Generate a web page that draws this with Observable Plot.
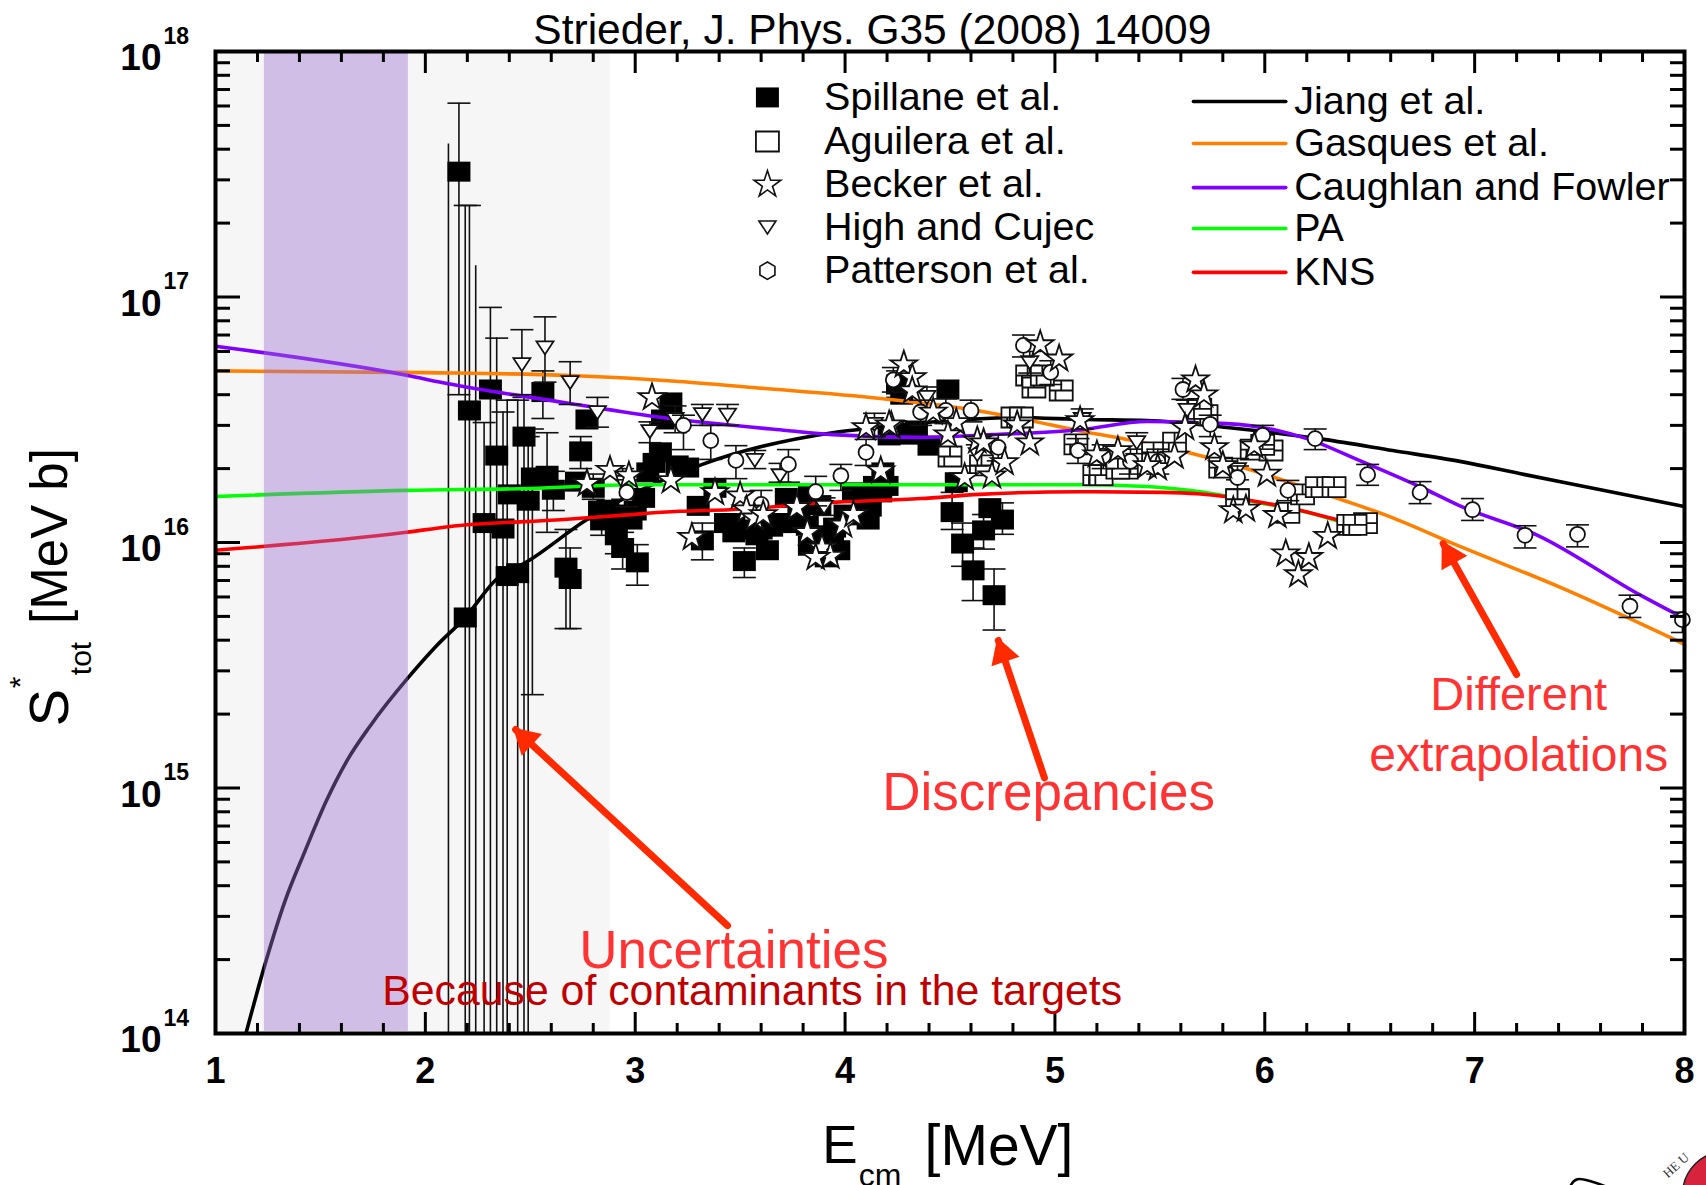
<!DOCTYPE html>
<html><head><meta charset="utf-8">
<style>html,body{margin:0;padding:0;background:#fff;overflow:hidden}svg{display:block}</style>
<script src="https://cdn.jsdelivr.net/npm/d3@7"></script>
<script src="https://cdn.jsdelivr.net/npm/@observablehq/plot@0.6"></script>
</head><body><div id="chart"></div>
<script>
// All S values are in units of 1e16 MeV b; rows are [E, S, low, high]
const spillane = [
[2.16,32.4,4.0,61.6],[2.19,.495,.001,23.6],[2.21,3.45,.001,23.6],[2.28,1.2,.001,3.08],[2.31,4.2,.001,9.07],
[2.34,2.26,.001,6.8],[2.37,1.14,.001,3.4],[2.39,.73,.001,3.8],[2.44,.75,.001,3.8],[2.47,2.7,.001,3.9],
[2.49,1.48,.001,2.7],[2.40,1.57],[2.51,1.84,.24,2.9],[2.56,4.1,3.2,5.0],[2.58,1.87,1.1,2.8],[2.61,1.64,1.35,1.95],
[2.74,2.35,2.0,2.7],[2.77,3.17],[2.67,.79,.446,1.13],[2.69,.71,.446,.95],[2.72,1.77],[2.80,1.67,1.5,1.9],
[2.87,1.36],[2.84,1.23,1.07,1.4],[2.83,1.35],[2.9,1.27],[2.95,1.3],[3.0,1.35],[2.98,1.24],[3.04,1.52],[2.91,1.07,.9,1.25],[2.94,.95,.78,1.1],[3.01,.83,.67,.98],
[3.06,1.93],[3.09,2.11],[3.12,2.33],[3.17,3.72],[3.13,3.17],[3.20,2.06],[3.25,2.02],[3.38,1.67],[3.30,1.41],
[3.32,1.02,.85,1.2],[3.47,1.1],[3.52,.84,.72,.95],[3.63,.93],[3.47,1.2],[3.43,1.2],[3.55,1.13],[3.6,1.13],[3.65,1.16],[3.58,1.07],[3.69,1.2],[3.72,1.2],[3.72,1.52],[3.83,1.55],
[3.78,1.35],[3.88,1.42],[3.82,1.17],[3.87,1.07],[3.83,.97],[3.94,1.03],[3.95,1.15],[4.0,1.3],[3.97,.93],[3.91,.87],[4.04,1.6],[4.17,1.6],[4.07,1.29],[4.11,1.24],
[4.1,1.5],[4.12,1.4],[4.14,1.7],[4.2,1.7],[4.18,1.93],[4.25,4.4,3.9,5.0],[4.27,4.0],[4.21,2.73],[4.27,2.8],[4.3,2.75],[4.34,2.86],[4.40,2.48],[4.49,4.2],[4.53,1.76],
[4.51,1.33,1.13,1.6],[4.56,.99,.8,1.2],[4.61,.77,.58,.95],[4.71,.61,.44,.78],[4.66,1.12,.94,1.3],[4.69,1.38],[4.75,1.24,1.08,1.45]
];
const bareBars = [[2.11,.001,42],[2.24,.001,13.4]];
const aguilera = [
[4.87,4.79],[4.90,4.28],[5.03,4.16],[4.94,4.79],[4.50,2.24],[4.80,3.23],[4.84,3.23],[5.10,2.51],[5.19,1.88],[5.22,1.88],
[5.34,2.0],[5.30,2.0],[5.47,2.33],[5.57,2.55],[4.65,2.06],[5.72,3.3],[5.69,3.5],[5.79,2.02],[5.87,1.5],[5.94,2.39],[6.03,2.37],[5.99,2.5],
[6.11,1.32],[6.18,1.57],[6.25,1.68],[6.33,1.68],[6.40,1.18],[6.48,1.2],[6.43,1.18]
];
const becker = [
[3.08,3.9],[2.77,1.74],[2.88,1.97],[2.97,1.87],[3.17,1.79],[3.38,1.6],[3.27,1.05],[3.5,1.55],[3.53,1.36],[3.57,1.26],[3.61,1.3],
[3.77,1.39],[3.82,1.1],[3.99,1.18],[4.04,1.3],[3.89,.95],[3.93,.88],[3.86,.87],[4.17,1.96],[4.10,2.94],[4.22,3.0],[4.28,5.3],
[4.32,4.7],[4.32,4.15],[4.42,3.4],[4.53,3.08],[4.21,3.02],[4.49,2.75],[4.63,2.6],[4.66,2.55],[4.57,1.84],[4.70,1.87],[4.76,2.12],
[4.88,2.55],[4.82,3.02],[4.93,6.4],[5.02,5.6],[5.12,3.14],[5.2,2.28],[5.3,2.37],[5.49,2.02],[5.44,2.06],[5.57,2.25],[5.67,4.6],
[5.71,4.0],[5.62,2.94],[5.76,2.44],[5.80,2.06],[6.01,1.9],[5.95,2.48],[5.85,1.35],[5.91,1.37],[6.06,1.29],[6.30,1.06],[6.10,.9],
[6.21,.87],[6.16,.74]
];
const high = [
[2.46,5.3,4.0,7.36],[2.57,6.2,4.5,8.3],[2.69,4.48,3.65,5.45],[2.82,3.38,2.95,3.9],[3.07,2.83,2.55,3.1],[3.19,3.17,2.8,3.6],[2.94,1.76,1.5,2.0],
[3.32,3.32,3.0,3.65],[3.44,3.3,3.0,3.65],[3.57,2.16,2.0,2.37],[3.69,1.87,1.76,2.1],[3.90,1.39,1.29,1.52],[4.14,3.03,2.7,3.36],
[4.39,3.9,3.5,4.3],[4.63,2.28,2.05,2.5],[4.88,5.4,4.9,6.0],[5.13,3.17,2.9,3.5],[5.39,2.55,2.3,2.8],[5.63,3.45,3.1,3.8],[5.87,1.98,1.8,2.2]
];
const patterson = [
[2.96,1.6,1.4,1.8],[3.23,3.0,2.39,3.3],[3.36,2.6,2.18,3.0],[3.48,2.16,1.82,2.48],[3.60,1.43,1.24,1.63],[3.73,2.08,1.76,2.39],[3.86,1.61,1.41,1.86],
[3.98,1.87,1.63,2.08],[4.10,2.33,2.06,2.63],[4.23,4.6,4.1,5.16],[4.36,3.4,3.0,3.8],[4.48,3.45,3.05,3.85],[4.60,3.45,3.1,3.8],[4.73,2.44,2.15,2.75],
[4.85,6.35,5.7,7.0],[4.98,4.93,4.4,5.5],[5.11,2.37,2.1,2.65],[5.23,2.25,2.0,2.5],[5.36,2.14,1.9,2.4],[5.49,2.14,1.9,2.4],[5.61,4.2,3.83,4.66],
[5.74,3.03,2.7,3.3],[5.87,1.84,1.65,2.05],[5.99,2.73,2.4,3.0],[6.11,1.63,1.48,1.79],[6.24,2.65,2.39,2.9],[6.49,1.89,1.71,2.08],[6.74,1.6,1.44,1.77],
[6.99,1.36,1.23,1.51],[7.24,1.07,.95,1.17],[7.49,1.08,.96,1.18],[7.74,.55,.495,.61],[7.99,.485,.43,.52]
];
const jiang = [[1.145,.01],[1.234,.0189],[1.332,.0348],[1.426,.0552],[1.53,.0893],[1.633,.132],[1.737,.179],[1.919,.282],[2.05,.377],[2.19,.495],[2.34,.71],[2.49,.84],[2.77,1.24],[3.32,2.08],[3.94,2.8],[4.15,2.94],[4.58,3.17],[4.8,3.23],[5.15,3.17],[5.44,3.14],[5.82,2.94],[6.04,2.8],[6.28,2.63],[6.61,2.37],[6.93,2.14],[7.24,1.89],[7.6,1.64],[8,1.4]];
const gasques = [[1,5.0],[2,4.92],[2.69,4.79],[3.21,4.53],[3.56,4.28],[4.17,3.86],[4.56,3.52],[4.88,3.14],[5.09,2.88],[5.34,2.63],[5.63,2.33],[5.94,1.97],[6.09,1.79],[6.36,1.5],[6.58,1.29],[6.91,.98],[7.42,.65],[8,.385]];
const caughlan = [[1,6.3],[1.91,4.8],[2.11,4.43],[2.66,3.72],[3.13,3.23],[3.72,2.86],[3.94,2.75],[4.36,2.68],[4.70,2.75],[5.12,2.88],[5.44,3.11],[5.82,3.05],[6.06,2.86],[6.2,2.65],[6.45,2.16],[6.77,1.64],[6.93,1.41],[7.3,1.07],[7.79,.61],[8,.49]];
const pa = [[1,1.54],[1.91,1.63],[2.5,1.66],[3,1.72],[4,1.72],[5.12,1.72],[5.44,1.69],[5.71,1.6],[5.98,1.45],[6.17,1.35],[6.34,1.23]];
const kns = [[1,.93],[1.91,1.1],[2.11,1.16],[2.66,1.24],[2.93,1.29],[3.21,1.34],[3.45,1.36],[3.96,1.46],[4.36,1.51],[4.64,1.57],[5.12,1.61],[5.51,1.6],[5.68,1.58],[5.98,1.46],[6.17,1.35],[6.34,1.24]];
const xMajor = [1,2,3,4,5,6,7,8];
const xMinor = [1.2,1.4,1.6,1.8,2.2,2.4,2.6,2.8,3.2,3.4,3.6,3.8,4.2,4.4,4.6,4.8,5.2,5.4,5.6,5.8,6.2,6.4,6.6,6.8,7.2,7.4,7.6,7.8];
const yMajor = [.01,.1,1,10,100];
const yExponents = ["14","15","16","17","18"];
const yMinor = [.02,.03,.04,.05,.06,.07,.08,.09,.2,.3,.4,.5,.6,.7,.8,.9,2,3,4,5,6,7,8,9,20,30,40,50,60,70,80,90];
const legendLeftNames = ["Spillane et al.","Aguilera et al.","Becker et al.","High and Cujec","Patterson et al."];
const legendLeftS = [65,43,28.7,19.2,12.8];
const legendRightNames = ["Jiang et al.","Gasques et al.","Caughlan and Fowler","PA","KNS"];
const legendRightS = [62.6,42.2,27.9,19,12.6];
const lineColors = ["#000000","#ff8000","#8000ff","#00ff00","#ff0000"];
const font = "Liberation Sans, Arial, sans-serif";

const rectSym = (w,h)=>({draw(c){c.moveTo(-w/2,-h/2);c.lineTo(w/2,-h/2);c.lineTo(w/2,h/2);c.lineTo(-w/2,h/2);c.closePath();}});
const brickSym = (w,h)=>({draw(c){c.moveTo(-w/2,-h/2);c.lineTo(w/2,-h/2);c.lineTo(w/2,h/2);c.lineTo(-w/2,h/2);c.closePath();
  c.moveTo(-w/2,0);c.lineTo(w/2,0);c.moveTo(0,-h/2);c.lineTo(0,0);c.moveTo(-w/4,0);c.lineTo(-w/4,h/2);}});
const triDown = (w,h)=>({draw(c){c.moveTo(-w/2,-h/2);c.lineTo(w/2,-h/2);c.lineTo(0,h/2);c.closePath();}});
const capSym = {draw(c){c.moveTo(-11.5,0);c.lineTo(11.5,0);}};

const X = d=>d[0], Y = d=>d[1];
const whiskers = rows => {
  const r = rows.filter(d=>d.length===4);
  return [
    Plot.ruleX(r,{x:X,y1:d=>d[2],y2:d=>d[3],stroke:"#111",strokeWidth:1.6,clip:true}),
    Plot.dot(r,{x:X,y:d=>d[2],symbol:capSym,r:5,stroke:"#111",strokeWidth:1.6,clip:true}),
    Plot.dot(r,{x:X,y:d=>d[3],symbol:capSym,r:5,stroke:"#111",strokeWidth:1.6,clip:true})
  ];
};
const line = (rows,color)=>Plot.line(rows,{x:X,y:Y,stroke:color,strokeWidth:3.6,curve:"monotone-x",clip:true});
const txt = (s,o)=>Plot.text([s],{text:d=>d,fontFamily:font,fill:"#000",...o});
const at = (s,E,S,o)=>txt(s,{x:()=>E,y:()=>S,...o});
const arrow = (E1,S1,E2,S2,rot,dx,dy)=>[
  Plot.line([[E1,S1],[E2,S2]],{x:X,y:Y,stroke:"#ff2a00",strokeWidth:7}),
  Plot.dot([[E2,S2]],{x:X,y:Y,symbol:"triangle",r:11,fill:"#ff2a00",rotate:rot,dx,dy})
];

const tickStyle = {fontFamily:font,label:null,tickFormat:()=>""};
const marks = [
  Plot.rect([[1,2.88]],{x1:d=>d[0],x2:d=>d[1],y1:()=>.01,y2:()=>100,fill:"#f6f6f6"}),
  Plot.ruleX(bareBars,{x:X,y1:d=>d[1],y2:d=>d[2],stroke:"#111",strokeWidth:1.6,clip:true}),
  ...whiskers(spillane),
  Plot.dot(spillane,{x:X,y:Y,symbol:rectSym(23,20),r:5,fill:"#000"}),
  line(jiang,lineColors[0]), line(gasques,lineColors[1]), line(caughlan,lineColors[2]), line(pa,lineColors[3]), line(kns,lineColors[4]),
  Plot.dot(aguilera,{x:X,y:Y,symbol:brickSym(23,20),r:5,fill:"#fff",stroke:"#111",strokeWidth:1.8}),
  ...whiskers(high),
  Plot.dot(high,{x:X,y:Y,symbol:triDown(17,13),r:5,fill:"#fff",stroke:"#111",strokeWidth:1.8}),
  ...whiskers(patterson),
  Plot.dot(patterson,{x:X,y:Y,symbol:"circle",r:7.5,fill:"#fff",stroke:"#111",strokeWidth:1.8}),
  Plot.dot(becker,{x:X,y:Y,symbol:"star",r:8.4,fill:"#fff",stroke:"#111",strokeWidth:1.8}),
  Plot.rect([[1.233,1.919]],{x1:d=>d[0],x2:d=>d[1],y1:()=>.0102,y2:()=>100,fill:"#9b6fd0",fillOpacity:.42}),
  // axes
  Plot.axisX({anchor:"bottom",ticks:xMajor,tickSize:-21,strokeWidth:3,...tickStyle}),
  Plot.axisX({anchor:"bottom",ticks:xMinor,tickSize:-10,strokeWidth:3,...tickStyle}),
  Plot.axisX({anchor:"top",ticks:xMajor,tickSize:-21,strokeWidth:3,...tickStyle}),
  Plot.axisX({anchor:"top",ticks:xMinor,tickSize:-10,strokeWidth:3,...tickStyle}),
  Plot.axisY({anchor:"left",ticks:yMajor,tickSize:-25,strokeWidth:3,...tickStyle}),
  Plot.axisY({anchor:"left",ticks:yMinor,tickSize:-15,strokeWidth:3,...tickStyle}),
  Plot.axisY({anchor:"right",ticks:yMajor,tickSize:-25,strokeWidth:3,...tickStyle}),
  Plot.axisY({anchor:"right",ticks:yMinor,tickSize:-15,strokeWidth:3,...tickStyle}),
  Plot.frame({stroke:"#000",strokeWidth:4}),
  // tick labels
  Plot.text(xMajor,{x:d=>d,y:()=>.01,text:d=>String(d),dy:38,fontSize:36,fontWeight:"bold",fontFamily:font,fill:"#000"}),
  Plot.text(yMajor,{x:()=>1,y:d=>d,text:()=>"10",dx:-54,dy:7,textAnchor:"end",fontSize:37,fontWeight:"bold",fontFamily:font,fill:"#000"}),
  Plot.text(yMajor,{x:()=>1,y:d=>d,text:(d,i)=>yExponents[i],dx:-52,dy:-15,textAnchor:"start",fontSize:23,fontWeight:"bold",fontFamily:font,fill:"#000"}),
  // titles
  at("Strieder, J. Phys. G35 (2008) 14009",4.13,122,{fontSize:42.5}),
  txt("E",{frameAnchor:"bottom",lineAnchor:"middle",dx:-110,dy:113,fontSize:53}),
  txt("cm",{frameAnchor:"bottom",lineAnchor:"middle",dx:-70,dy:142,fontSize:32}),
  txt("[MeV]",{frameAnchor:"bottom",lineAnchor:"middle",dx:49,dy:113,fontSize:57}),
  txt("[MeV b]",{frameAnchor:"left",textAnchor:"middle",dx:-165,dy:-6.5,rotate:-90,fontSize:51}),
  txt("S",{frameAnchor:"left",textAnchor:"middle",dx:-165,dy:165,rotate:-90,fontSize:56}),
  txt("*",{frameAnchor:"left",textAnchor:"middle",dx:-195,dy:140,rotate:-90,fontSize:30}),
  txt("tot",{frameAnchor:"left",textAnchor:"middle",dx:-134,dy:116,rotate:-90,fontSize:30}),
  // legend
  Plot.dot([[3.63,legendLeftS[0]]],{x:X,y:Y,symbol:rectSym(23,20),r:5,fill:"#000"}),
  Plot.dot([[3.63,legendLeftS[1]]],{x:X,y:Y,symbol:rectSym(23,20),r:5,fill:"#fff",stroke:"#111",strokeWidth:1.8}),
  Plot.dot([[3.63,legendLeftS[2]]],{x:X,y:Y,symbol:"star",r:8.4,fill:"#fff",stroke:"#111",strokeWidth:1.6}),
  Plot.dot([[3.63,legendLeftS[3]]],{x:X,y:Y,symbol:triDown(17,13),r:5,fill:"#fff",stroke:"#111",strokeWidth:1.6}),
  Plot.dot([[3.63,legendLeftS[4]]],{x:X,y:Y,symbol:"hexagon",r:7.5,fill:"#fff",stroke:"#111",strokeWidth:1.6}),
  Plot.text(legendLeftNames,{x:()=>3.9,y:(d,i)=>legendLeftS[i],text:d=>d,textAnchor:"start",fontSize:39.5,fontFamily:font,fill:"#000"}),
  ...legendRightS.map((s,i)=>Plot.line([[5.66,s],[6.10,s]],{x:X,y:Y,stroke:lineColors[i],strokeWidth:3.6})),
  Plot.text(legendRightNames,{x:()=>6.14,y:(d,i)=>legendRightS[i],text:d=>d,textAnchor:"start",fontSize:39.5,fontFamily:font,fill:"#000"}),
  // annotations
  ...arrow(3.44,.0275,2.43,.173,-47,10,9.5),
  ...arrow(4.95,.11,4.73,.399,-18.6,4.5,13),
  ...arrow(7.2,.29,6.85,.99,-29.5,7,12),
  at("Uncertainties",3.47,.0216,{fontSize:53,fill:"#ff3333"}),
  at("Because of contaminants in the targets",3.557,.0149,{fontSize:42.8,fill:"#c00000"}),
  at("Discrepancies",4.97,.095,{fontSize:53,fill:"#ff3333"}),
  at("Different",7.21,.24,{fontSize:47,fill:"#ff3333"}),
  at("extrapolations",7.21,.1355,{fontSize:48,fill:"#ff3333"}),
  // cropped crest at the bottom right corner
  Plot.line([[7.45,.00208],[7.455,.00238],[7.49,.00255],[7.79,.00208]],{x:X,y:Y,stroke:"#000",strokeWidth:2.5,curve:"catmull-rom"}),
  Plot.dot([[8.2,.0022]],{x:X,y:Y,r:44,fill:"#d8233c",stroke:"#222",strokeWidth:1.5}),
  at("HE U",7.96,.0029,{fontSize:13,rotate:-42,fontFamily:"Liberation Serif",fill:"#333"})
];
const chart = Plot.plot({
  width:1706,height:1185,marginLeft:215,marginRight:22,marginTop:51,marginBottom:152,
  style:{background:"#fff",fontFamily:font,overflow:"visible"},
  x:{domain:[1,8]},
  y:{type:"log",domain:[.01,100]},
  marks
});
document.getElementById("chart").append(chart);
</script></body></html>
